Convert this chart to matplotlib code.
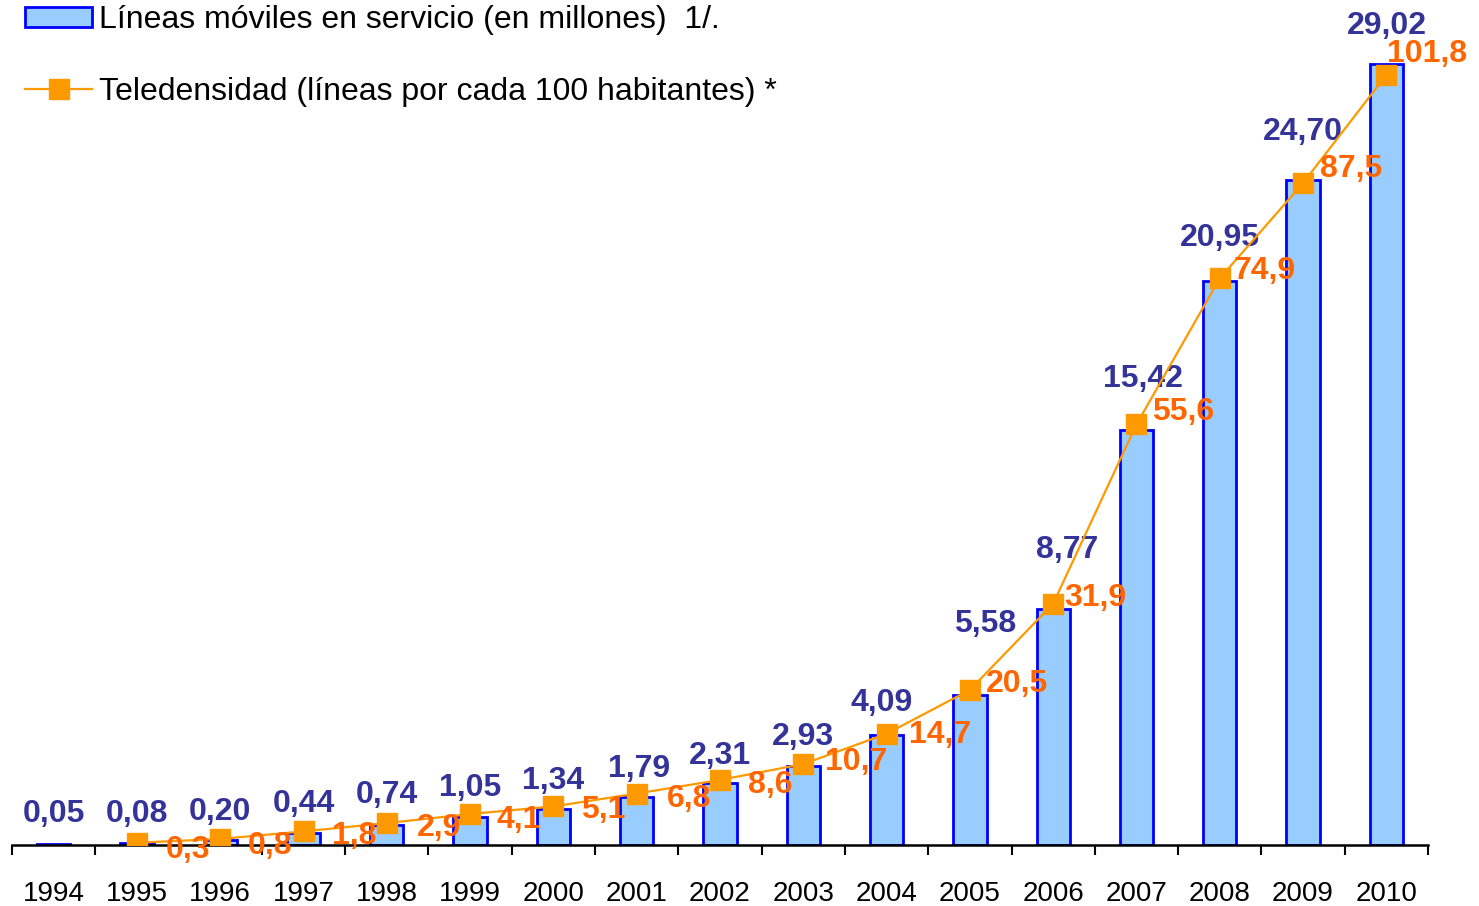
import numpy as np
import matplotlib
matplotlib.use("Agg")
import matplotlib.pyplot as plt

plt.rcParams['font.family'] = ['Liberation Sans', 'DejaVu Sans']

# ---- Data ----
years = ['1994', '1995', '1996', '1997', '1998', '1999', '2000', '2001', '2002',
         '2003', '2004', '2005', '2006', '2007', '2008', '2009', '2010']
lineas = [0.05, 0.08, 0.20, 0.44, 0.74, 1.05, 1.34, 1.79, 2.31,
          2.93, 4.09, 5.58, 8.77, 15.42, 20.95, 24.70, 29.02]
lineas_txt = ['0,05', '0,08', '0,20', '0,44', '0,74', '1,05', '1,34', '1,79', '2,31',
              '2,93', '4,09', '5,58', '8,77', '15,42', '20,95', '24,70', '29,02']
tele_years = years[1:]
teledensidad = [0.3, 0.8, 1.8, 2.9, 4.1, 5.1, 6.8, 8.6, 10.7,
                14.7, 20.5, 31.9, 55.6, 74.9, 87.5, 101.8]
tele_txt = ['0,3', '0,8', '1,8', '2,9', '4,1', '5,1', '6,8', '8,6', '10,7',
            '14,7', '20,5', '31,9', '55,6', '74,9', '87,5', '101,8']

# label offsets (pixels) so the labels sit like in the original
bar_lbl_dx = [0, 0, 0, 0, 0, 0, 0, 2, 0, 0, -5, 15, 14, 6, 0, 0, 1]
bar_lbl_gap = [15, 14, 13, 14, 15, 14, 13, 13, 12, 14, 17, 56, 44, 36, 28, 33, 23]
tele_lbl_dx = [51, 50, 51, 52, 49, 50, 52, 50, 53, 53, 47, 42, 47, 45, 48, 41]
tele_lbl_dy = [-7, -7, -5, -5, -6, -4, -5, -5, 2, -1, 6, 6, 12, 7, 14, 21]

PX = 0.72  # pixels -> points at dpi 100

fig = plt.figure(figsize=(14.79, 9.06), dpi=100)
ax = fig.add_axes([12 / 1479, 61 / 906, 1416 / 1479, 845 / 906])
ax2 = ax.twinx()

x = np.arange(len(years))
tx = np.arange(1, len(years))

# ---- Bars ----
bars = ax.bar(x, lineas, width=0.4, color='#99CCFF', edgecolor='#0000FF', linewidth=2,
              label='Líneas móviles en servicio (en millones)  1/.')
for i, v in enumerate(lineas):
    ax.annotate(lineas_txt[i], (x[i], v), xytext=(bar_lbl_dx[i] * PX, bar_lbl_gap[i] * PX),
                textcoords='offset points', ha='center', va='bottom',
                fontsize=23, fontweight='bold', color='#333399')

# ---- Line ----
line, = ax2.plot(tx, teledensidad, color='#FF9900', lw=1.6, marker='s', markersize=14,
                 markerfacecolor='#FF9900', markeredgecolor='#FF9900',
                 label='Teledensidad (líneas por cada 100 habitantes) *')
for i, v in enumerate(teledensidad):
    ax2.annotate(tele_txt[i], (tx[i], v), xytext=(tele_lbl_dx[i] * PX, tele_lbl_dy[i] * PX),
                 textcoords='offset points', ha='center', va='center',
                 fontsize=23, fontweight='bold', color='#FF6600')

# ---- Axes ----
ax.set_xlim(-0.5, len(years) - 0.5)
ax.set_ylim(0, 31.40)
ax2.set_ylim(0, 111.7)

ax.set_xticks(x)
ax.set_xticklabels(years, fontsize=20)
ax.set_xticks(np.arange(-0.5, len(years)), minor=True)
ax.tick_params(axis='x', which='major', length=0, pad=26)
ax.tick_params(axis='x', which='minor', length=7, width=1.5, direction='out')
ax.set_yticks([])
ax2.set_yticks([])

for a in (ax, ax2):
    for s in ('top', 'left', 'right'):
        a.spines[s].set_visible(False)
ax2.spines['bottom'].set_visible(False)
ax.spines['bottom'].set_linewidth(1.8)

# ---- Legend ----
fig.legend(handles=[bars, line], loc='upper left', bbox_to_anchor=(25 / 1479, 1 - 5 / 906),
           frameon=False, fontsize=23, handlelength=2.1, handletextpad=0.22,
           handleheight=0.6, labelspacing=1.3, borderpad=0, borderaxespad=0)

fig.savefig('out.png', dpi=100)
